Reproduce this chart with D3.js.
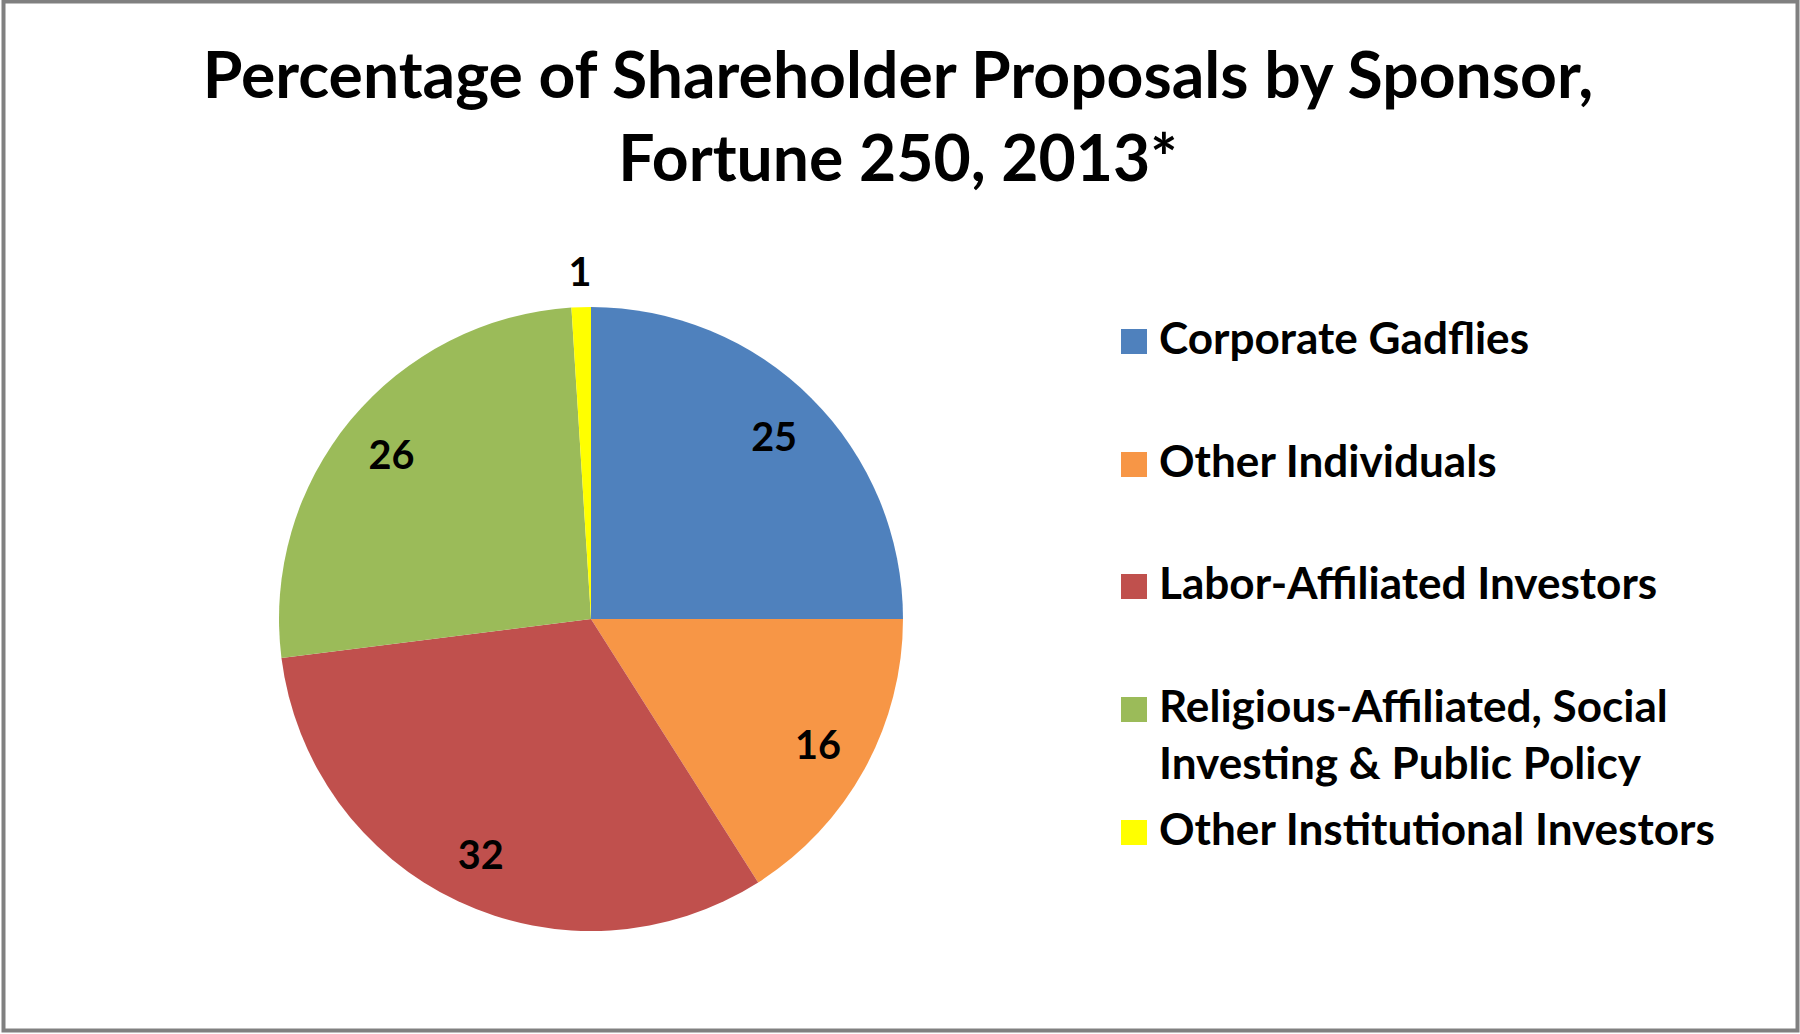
<!DOCTYPE html>
<html>
<head>
<meta charset="utf-8">
<script src="https://cdn.jsdelivr.net/npm/d3@7"></script>
<style>
  html, body { margin: 0; padding: 0; background: #fff; }
  svg { display: block; }
  text { font-family: Lato, "Open Sans", sans-serif; font-weight: bold; fill: #000; }
</style>
</head>
<body>
<svg id="chart" width="1800" height="1034"></svg>
<script>
// ---- data ----
const titleLines = ["Percentage of Shareholder Proposals by Sponsor,", "Fortune 250, 2013*"];
const categories = ["Corporate Gadflies", "Other Individuals", "Labor-Affiliated Investors",
                    "Religious-Affiliated, Social Investing & Public Policy", "Other Institutional Investors"];
const legendLines = [["Corporate Gadflies"], ["Other Individuals"], ["Labor-Affiliated Investors"],
                     ["Religious-Affiliated, Social", "Investing & Public Policy"], ["Other Institutional Investors"]];
const values = [25, 16, 32, 26, 1];
const colors = ["#4F81BD", "#F79646", "#C0504D", "#9BBB59", "#FFFF00"];

// ---- layout ----
const W = 1800, H = 1034;
const svg = d3.select("#chart");

svg.append("rect")
  .attr("x", 3.5).attr("y", 1.5).attr("width", W - 6).attr("height", H - 5)
  .attr("fill", "#fff").attr("stroke", "#808080").attr("stroke-width", 4);

// helper: fit font size so a text reaches a target width
function fitSize(str, target, base) {
  const t = svg.append("text").attr("font-size", base).text(str);
  const w = t.node().getComputedTextLength();
  t.remove();
  return base * target / w;
}

// title
const titleSize = fitSize(titleLines[0], 1391, 56);
const titleY = [98, 181];
svg.selectAll("text.title").data(titleLines).join("text")
  .attr("class", "title")
  .attr("x", 898).attr("y", (d, i) => titleY[i])
  .attr("text-anchor", "middle")
  .attr("font-size", titleSize)
  .text(d => d);

// pie
const cx = 591, cy = 619, R = 312;
const pie = d3.pie().sort(null).value(d => d)(values);
const arc = d3.arc().innerRadius(0).outerRadius(R);
const g = svg.append("g").attr("transform", `translate(${cx},${cy})`);
g.selectAll("path").data(pie).join("path")
  .attr("d", arc)
  .attr("fill", (d, i) => colors[i]);

// data labels
const labelSize = fitSize("25", 46, 44);
const inArc = d3.arc().innerRadius(0.83 * R * 2 - 0).outerRadius(0); // centroid at 0.83R
const outArc = d3.arc().innerRadius(R + 37).outerRadius(R + 37);
g.selectAll("text.lbl").data(pie).join("text")
  .attr("class", "lbl")
  .attr("transform", d => {
    const c = (d.data < 3 ? outArc : inArc).centroid(d);
    return `translate(${c[0]},${c[1]})`;
  })
  .attr("text-anchor", "middle")
  .attr("dominant-baseline", "central")
  .attr("font-size", labelSize)
  .text(d => d.data);

// legend
const legSize = fitSize("Other Institutional Investors", 556, 40);
const rowBase = [354, 477, 599, 722, 845];
const lineGap = 57;
const leg = svg.append("g");
const rows = leg.selectAll("g").data(categories).join("g");
rows.append("rect")
  .attr("x", 1121).attr("y", (d, i) => rowBase[i] - 25)
  .attr("width", 26).attr("height", 25)
  .attr("fill", (d, i) => colors[i]);
rows.append("text")
  .attr("x", 1159).attr("y", (d, i) => rowBase[i])
  .attr("font-size", legSize)
  .selectAll("tspan").data((d, i) => legendLines[i]).join("tspan")
  .attr("x", 1159).attr("dy", (d, j) => j === 0 ? 0 : lineGap)
  .text(d => d);
</script>
</body>
</html>
